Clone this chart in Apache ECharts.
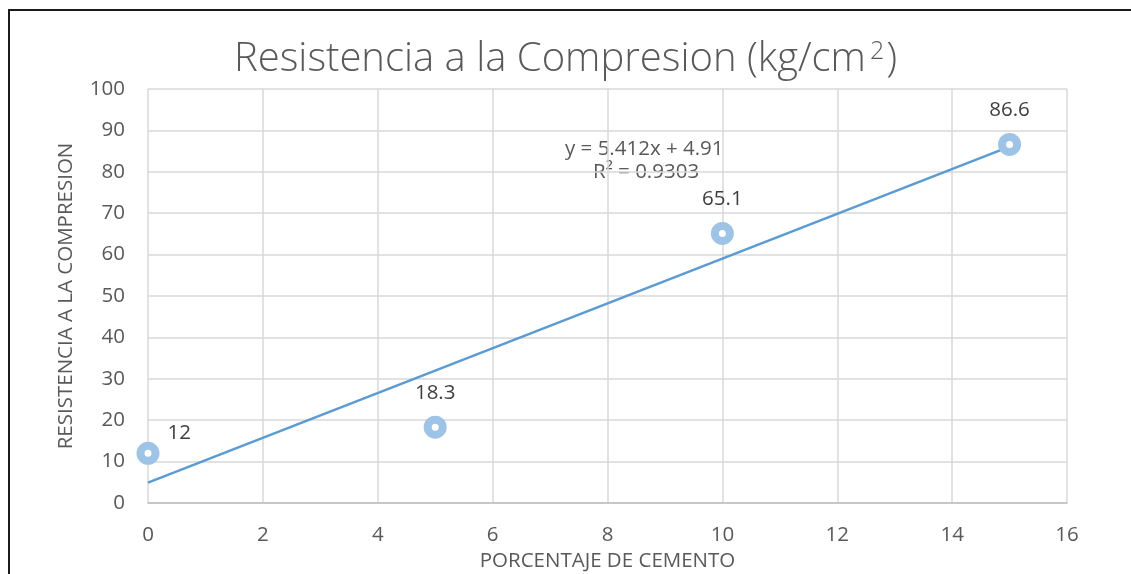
<!DOCTYPE html>
<html><head><meta charset="utf-8">
<script src="https://cdn.jsdelivr.net/npm/echarts@6/dist/echarts.min.js"></script>
<style>
html,body{margin:0;padding:0;background:#fff;overflow:hidden}
#frame{position:absolute;left:8px;top:9px;width:1140px;height:600px;border:2px solid #1a1a1a;box-sizing:border-box}
#c{position:absolute;left:0;top:0;width:1131px;height:574px}
</style></head>
<body>
<div id="frame"></div>
<div id="c"></div>
<script>
var cementPct = [0, 5, 10, 15];
var strength = [12, 18.3, 65.1, 86.6];
var trendX = [0, 15];
var trendY = [4.91, 86.09];
var xTicks = [0, 2, 4, 6, 8, 10, 12, 14, 16];
var yTicks = [0, 10, 20, 30, 40, 50, 60, 70, 80, 90, 100];
var equationText = ['y = 5.412x + 4.91', 'R² = 0.9303'];

var F = '"Open Sans", "Liberation Sans", sans-serif';
var chart = echarts.init(document.getElementById('c'), null, {renderer:'canvas'});
var pts = cementPct.map(function(x,i){
  var d = {value:[x, strength[i]]};
  if (i === 0) d.label = {position:'right', distance:5, offset:[3,-20]};
  return d;
});
chart.setOption({
  animation:false,
  backgroundColor:'transparent',
  title:{
    text:'{a|Resistencia a la Compresion (kg/cm}{s|2}{a|)}',
    left:'center', top:34,
    textStyle:{rich:{
      a:{fontFamily:F, fontSize:40, fontWeight:300, color:'#595959'},
      s:{fontFamily:F, fontSize:25, fontWeight:300, color:'#595959', verticalAlign:'top', padding:[0,2,16,4]}
    }}
  },
  grid:{left:148, right:64, top:89, bottom:71, containLabel:false, outerBoundsMode:'none'},
  xAxis:{
    type:'value', min:xTicks[0], max:xTicks[xTicks.length-1], interval:2,
    name:'PORCENTAJE DE CEMENTO', nameLocation:'middle', nameGap:47,
    nameTextStyle:{fontFamily:F, fontSize:20.5, color:'#595959'},
    axisLine:{lineStyle:{color:'#bfbfbf', width:1.5}},
    axisTick:{show:false},
    axisLabel:{fontFamily:F, fontSize:20.5, color:'#595959', margin:22},
    splitLine:{show:true, lineStyle:{color:'#d9d9d9', width:1.5}}
  },
  yAxis:{
    type:'value', min:yTicks[0], max:yTicks[yTicks.length-1], interval:10,
    name:'RESISTENCIA A LA COMPRESION', nameLocation:'middle', nameGap:71,
    nameTextStyle:{fontFamily:F, fontSize:20.5, color:'#595959'},
    axisLine:{show:false},
    axisTick:{show:false},
    axisLabel:{fontFamily:F, fontSize:20.5, color:'#595959', margin:23},
    splitLine:{show:true, lineStyle:{color:'#d9d9d9', width:1.5}}
  },
  series:[
    {
      type:'line', data:trendX.map(function(x,i){return [x, trendY[i]];}),
      symbol:'none', lineStyle:{color:'#5b9bd5', width:2.5}, z:3, silent:true
    },
    {
      type:'scatter', data:pts, symbol:'circle', symbolSize:15,
      itemStyle:{color:'#ffffff', borderColor:'#9dc3e6', borderWidth:8, opacity:1},
      label:{show:true, position:'top', distance:12, fontFamily:F, fontSize:20.5, color:'#404040'},
      z:4
    }
  ],
  graphic:[
    {type:'text', left:565, top:139, style:{text:equationText[0], font:'20.5px '+F, fill:'#595959'}},
    {type:'text', left:593, top:162, style:{text:equationText[1], font:'20.5px '+F, fill:'#595959'}}
  ]
});
</script>
</body></html>
